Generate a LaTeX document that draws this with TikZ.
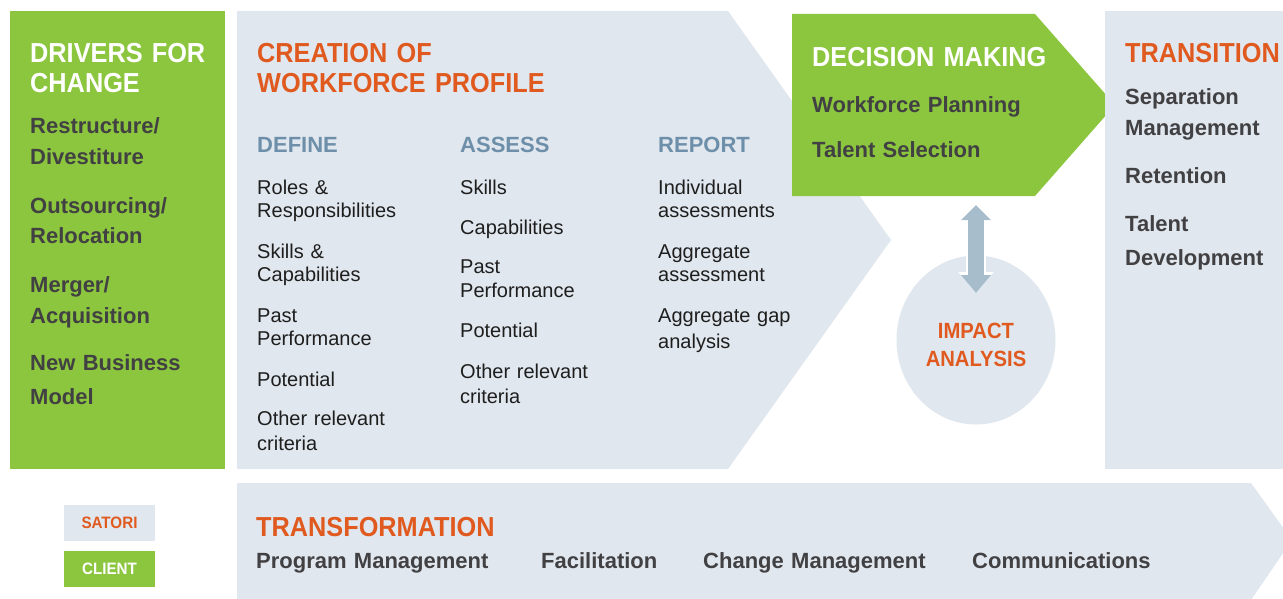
\documentclass[tikz,border=0pt]{standalone}
\usepackage{fontspec}
\usetikzlibrary{shapes.geometric,arrows.meta}
\setmainfont{Liberation Sans}
\newfontfamily\headfont[FakeStretch=0.92]{Liberation Sans}
\definecolor{leaf}{HTML}{8CC63F}
\definecolor{mist}{HTML}{E1E7EE}
\definecolor{rust}{HTML}{E05A1F}
\definecolor{steel}{HTML}{6E8FA9}
\definecolor{ink}{HTML}{414042}
\definecolor{body}{HTML}{1E1E1E}
\definecolor{shaft}{HTML}{A8BDCB}
\begin{document}
\begin{tikzpicture}[x=1pt,y=-1pt]

\tikzstyle{head}=[anchor=base west, inner sep=0pt, text width=400pt, align=left, font=\headfont\bfseries\fontsize{27.5}{30}\selectfont]
\tikzstyle{sub}=[anchor=base west, inner sep=0pt, text=steel, font=\bfseries\fontsize{22}{24}\selectfont]
\tikzstyle{item}=[anchor=base west, inner sep=0pt, text width=180pt, align=left, text=body, font=\fontsize{20}{24}\selectfont]
\tikzstyle{bolditem}=[anchor=base west, inner sep=0pt, text width=250pt, align=left, text=ink, font=\bfseries\fontsize{22}{31}\selectfont]
\tikzstyle{key}=[minimum width=91pt, minimum height=36pt, inner sep=0pt, font=\headfont\bfseries\fontsize{16.5}{18}\selectfont]

\useasboundingbox (0,0) rectangle (1283,599);
\clip (0,0) rectangle (1283,599);

% panels
\fill[leaf] (10,11) rectangle (225,469);
\fill[mist] (237,11) -- (728,11) -- (891,240) -- (728,469) -- (237,469) -- cycle;
\fill[leaf] (792,14) -- (1035,14) -- (1115,105) -- (1035,196) -- (792,196) -- cycle;
\fill[mist] (1105,11) rectangle (1290,469);
\fill[mist] (237,483) -- (1251,483) -- (1292,540) -- (1251,600) -- (237,600) -- cycle;

% drivers
\node[head, text=white] (drivers) at (30,63) {DRIVERS FOR\\CHANGE};
\node[bolditem] (restructure) at (30,134) {Restructure/\\Divestiture};
\node[bolditem] (outsourcing) at (30,213) {Outsourcing/\\Relocation};
\node[bolditem] (merger) at (30,292) {Merger/\\Acquisition};
\node[bolditem] (newbusiness) at (30,370) {New Business\\[3pt]Model};

% workforce profile
\node[head, text=rust] (creation) at (257,63) {CREATION OF\\WORKFORCE PROFILE};
\node[sub] (define) at (257,153) {DEFINE};
\node[sub] (assess) at (460,153) {ASSESS};
\node[sub] (report) at (658,153) {REPORT};
\node[item] (definelist) at (257,194) {Roles \&\\Responsibilities\\[16pt]Skills \&\\Capabilities\\[16pt]Past\\Performance\\[16pt]Potential\\[16pt]Other relevant\\criteria};
\node[item] (assesslist) at (460,194) {Skills\\[16pt]Capabilities\\[16pt]Past\\Performance\\[16pt]Potential\\[16pt]Other relevant\\[2pt]criteria};
\node[item] (reportlist) at (658,194) {Individual\\assessments\\[16pt]Aggregate\\assessment\\[16pt]Aggregate gap\\[2pt]analysis};

% decision
\node[head, text=white] (decision) at (812,67) {DECISION MAKING};
\node[bolditem] (planning) at (812,113) {Workforce Planning};
\node[bolditem] (selection) at (812,158) {Talent Selection};

% impact
\node[ellipse, fill=mist, minimum width=159pt, minimum height=169pt, inner sep=0pt] (impact) at (976,340) {};
\node[align=center, text=rust, inner sep=0pt, font=\headfont\bfseries\fontsize{22}{28}\selectfont] (impactlabel) at (976,345) {IMPACT\\ANALYSIS};
\coordinate (dm) at (976,205);
\coordinate (ia) at (976,293);
\draw[white, line width=20pt, {Triangle[length=18pt,width=34pt]}-{Triangle[length=21pt,width=34pt]}] (dm) -- (ia);
\draw[shaft, line width=16pt, {Triangle[length=15pt,width=29pt]}-{Triangle[length=18pt,width=29pt]}] (dm) -- (ia);

% transition
\node[head, text=rust] (transition) at (1125,63) {TRANSITION};
\node[bolditem] (separation) at (1125,105) {Separation\\Management};
\node[bolditem] (retention) at (1125,183) {Retention};
\node[bolditem] (talent) at (1125,231) {Talent\\[3pt]Development};

% transformation
\node[head, text=rust] (transformation) at (256,536) {TRANSFORMATION};
\node[bolditem] (program) at (256,568) {Program Management};
\node[bolditem] (facilitation) at (541,568) {Facilitation};
\node[bolditem] (change) at (703,568) {Change Management};
\node[bolditem] (communications) at (972,568) {Communications};

% legend
\node[key, fill=mist, text=rust] (satori) at (109.5,523) {SATORI};
\node[key, fill=leaf, text=white] (client) at (109.5,569) {CLIENT};

\end{tikzpicture}
\end{document}
